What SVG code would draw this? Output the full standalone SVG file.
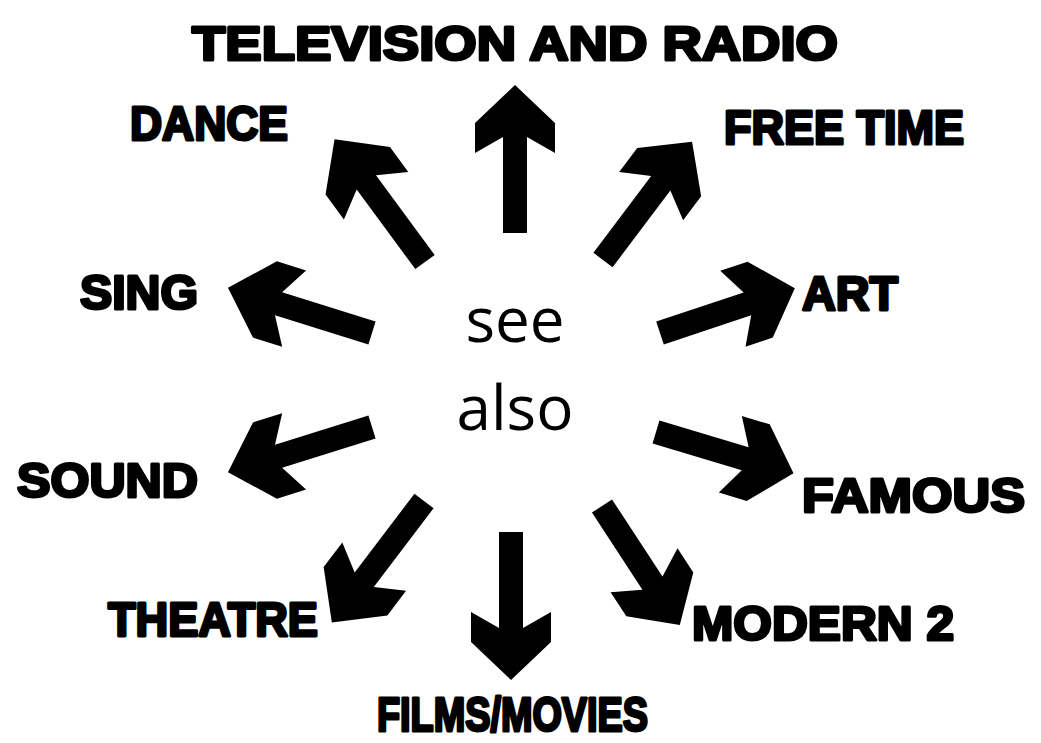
<svg xmlns="http://www.w3.org/2000/svg" xmlns:xlink="http://www.w3.org/1999/xlink" width="1041" height="743" viewBox="0 0 1041 743">
<style>
.lbl{font-family:"Liberation Sans",Arial,sans-serif;font-weight:bold;font-size:48px;fill:#000;stroke:#000;stroke-width:3;stroke-linejoin:round}
.ctr{font-family:"Open Sans","Noto Sans",sans-serif;font-size:62px;fill:#000;text-anchor:middle}
.arr{fill:#000}
</style>
<defs>
<path id="arrow" class="arr" d="M0,-12 L96,-12 L80,-40 L110,-40 L148,0 L110,40 L80,40 L96,12 L0,12 Z"/>
</defs>
<rect width="1041" height="743" fill="#fff"/>
<g id="connectors">
<use xlink:href="#arrow" transform="translate(515,233) rotate(-90)"/>
<use xlink:href="#arrow" transform="translate(425,262) rotate(-126.4) scale(1.03,1)"/>
<use xlink:href="#arrow" transform="translate(603,260) rotate(-53)"/>
<use xlink:href="#arrow" transform="translate(372,333) rotate(-162.6) scale(1.02,1)"/>
<use xlink:href="#arrow" transform="translate(660,333) rotate(-18.4) scale(0.96,1)"/>
<use xlink:href="#arrow" transform="translate(372,427) rotate(162.6) scale(1.02,1)"/>
<use xlink:href="#arrow" transform="translate(656,432) rotate(16.7) scale(0.97,1)"/>
<use xlink:href="#arrow" transform="translate(424,501) rotate(127.2) scale(1.03,1)"/>
<use xlink:href="#arrow" transform="translate(511,532) rotate(90)"/>
<use xlink:href="#arrow" transform="translate(602,506) rotate(56.8) scale(0.96,1)"/>
</g>
<g id="center">
<text class="ctr" x="515" y="342">see</text>
<text class="ctr" x="515" y="430">also</text>
</g>
<g id="tv"><text class="lbl" x="192" y="60" textLength="646" lengthAdjust="spacingAndGlyphs">TELEVISION AND RADIO</text></g>
<g id="dance"><text class="lbl" x="130" y="140" textLength="158" lengthAdjust="spacingAndGlyphs">DANCE</text></g>
<g id="freetime"><text class="lbl" x="724" y="144" textLength="240" lengthAdjust="spacingAndGlyphs">FREE TIME</text></g>
<g id="sing"><text class="lbl" x="80" y="309" textLength="118" lengthAdjust="spacingAndGlyphs">SING</text></g>
<g id="art"><text class="lbl" x="802" y="310" textLength="96" lengthAdjust="spacingAndGlyphs">ART</text></g>
<g id="sound"><text class="lbl" x="17" y="497" textLength="181" lengthAdjust="spacingAndGlyphs">SOUND</text></g>
<g id="famous"><text class="lbl" x="802" y="512" textLength="223" lengthAdjust="spacingAndGlyphs">FAMOUS</text></g>
<g id="theatre"><text class="lbl" x="108" y="636" textLength="210" lengthAdjust="spacingAndGlyphs">THEATRE</text></g>
<g id="modern"><text class="lbl" x="692" y="640" textLength="262" lengthAdjust="spacingAndGlyphs">MODERN 2</text></g>
<g id="films"><text class="lbl" x="377" y="731" textLength="271" lengthAdjust="spacingAndGlyphs">FILMS/MOVIES</text></g>
</svg>
